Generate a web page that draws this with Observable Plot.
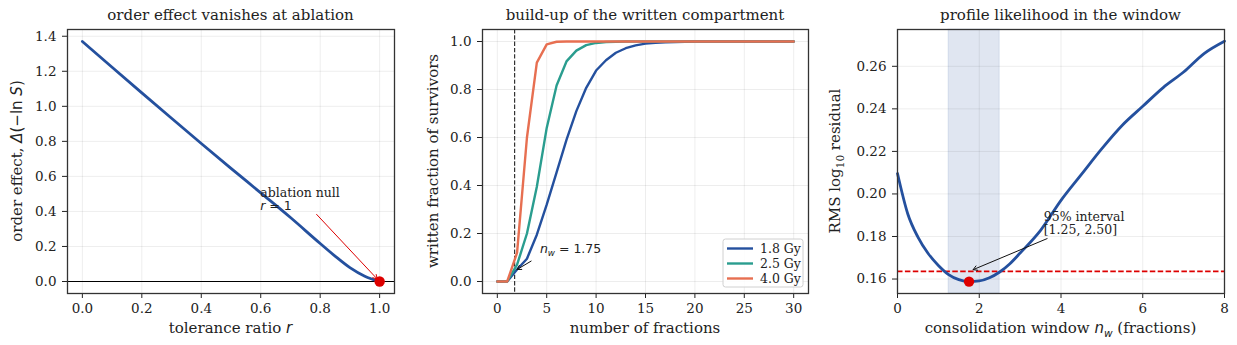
<!DOCTYPE html>
<html>
<head>
<meta charset="utf-8">
<script src="https://cdn.jsdelivr.net/npm/d3@7"></script>
<script src="https://cdn.jsdelivr.net/npm/@observablehq/plot@0.6"></script>
<style>
  body { margin: 0; background: #fff; }
  #row { display: flex; width: 1237px; height: 345px; }
  #row svg { display: block; overflow: visible; }
</style>
</head>
<body>
<div id="row"></div>
<script>
// ---- panel 1: order effect vs tolerance ratio ----
const toleranceRatio = [0, 0.1, 0.2, 0.3, 0.4, 0.5, 0.6, 0.7, 0.8, 0.85, 0.9, 0.95, 1.0];
const orderEffect    = [1.37, 1.223, 1.077, 0.932, 0.788, 0.646, 0.506, 0.365, 0.217, 0.145, 0.079, 0.03, 0];
const ablationNull   = {r: 1.0, value: 0};

// ---- panel 2: written fraction of survivors per dose ----
const fractions = [0,1,2,3,4,5,6,7,8,9,10,11,12,13,14,15,16,17,18,19,20,21,22,23,24,25,26,27,28,29,30];
const written18 = [0,0,0.05,0.095,0.195,0.32,0.455,0.59,0.71,0.807,0.879,0.922,0.953,0.972,0.984,0.991,0.995,0.997,0.998,0.999,1,1,1,1,1,1,1,1,1,1,1];
const written25 = [0,0,0.07,0.2,0.395,0.64,0.817,0.917,0.962,0.985,0.994,0.998,0.999,1,1,1,1,1,1,1,1,1,1,1,1,1,1,1,1,1,1];
const written40 = [0,0,0.12,0.6,0.912,0.988,0.999,1,1,1,1,1,1,1,1,1,1,1,1,1,1,1,1,1,1,1,1,1,1,1,1];
const doseLabels = ["1.8 Gy", "2.5 Gy", "4.0 Gy"];
const windowEstimate = 1.75;

// ---- panel 3: profile likelihood over the consolidation window ----
const windowN  = [0, 0.25, 0.5, 0.75, 1, 1.25, 1.5, 1.75, 2, 2.25, 2.5, 2.75, 3, 3.5, 4, 4.5, 5, 5.5, 6, 6.5, 7, 7.5, 8];
const rmsResid = [0.2096, 0.1907, 0.1797, 0.172, 0.1664, 0.1621, 0.1597, 0.1588, 0.1591, 0.1606, 0.1633, 0.1672, 0.1722, 0.1829, 0.197, 0.2092, 0.2213, 0.2323, 0.2412, 0.25, 0.2573, 0.266, 0.2718];
const interval95 = [1.25, 2.5];
const bestWindow = {n: 1.75, rms: 0.1588};
const threshold = 0.1636;

const SERIF = "'DejaVu Serif', serif";
const SANS = "'DejaVu Sans', sans-serif";
const BLUE = "#24509e", GREEN = "#2a9d8f", ORANGE = "#e76f51", RED = "#dd0000";
const doseColors = [BLUE, GREEN, ORANGE];

const H = 345, TOP = 29, BOTTOM = 52;
const TICK_FONT = 13.5, LABEL_FONT = 15, NOTE_FONT = 12.5;
const row = document.getElementById("row");

const baseStyle = {fontFamily: SERIF, fontSize: TICK_FONT + "px", color: "#222", background: "transparent"};

function axes(xTicks, xFmt, yTicks, yFmt) {
  return [
    Plot.gridX(xTicks, {stroke: "#000", strokeOpacity: 0.07}),
    Plot.gridY(yTicks, {stroke: "#000", strokeOpacity: 0.07}),
    Plot.axisX(xTicks, {tickFormat: xFmt, tickSize: 5, tickPadding: 5, label: null, fontSize: TICK_FONT}),
    Plot.axisY(yTicks, {tickFormat: yFmt, tickSize: 5, tickPadding: 6, label: null, fontSize: TICK_FONT})
  ];
}

// text made of runs in different fonts / styles, with optional subscripts
function rich(g, x, y, parts, {size = 12, anchor = "middle", rotate = 0} = {}) {
  const t = g.append("text")
    .attr("text-anchor", anchor)
    .attr("font-size", size)
    .attr("fill", "#222")
    .attr("transform", `translate(${x},${y}) rotate(${rotate})`);
  for (const p of parts) {
    const s = t.append("tspan")
      .attr("font-family", p.font || SERIF)
      .attr("font-style", p.italic ? "italic" : "normal")
      .text(p.t);
    if (p.sub) s.attr("font-size", size * 0.7).attr("dy", size * 0.25);
    if (p.unsub) s.attr("dy", -size * 0.25);
  }
  return t;
}

function title(svg, plot, text) {
  const g = d3.select(svg);
  const [x0, x1] = plot.scale("x").range;
  g.append("text").attr("x", (x0 + x1) / 2).attr("y", 20)
    .attr("text-anchor", "middle").attr("font-family", SERIF).attr("font-size", LABEL_FONT)
    .attr("fill", "#222").text(text);
}

// ---------- panel 1 ----------
{
  const data = toleranceRatio.map((r, i) => ({r, v: orderEffect[i]}));
  const p = Plot.plot({
    width: 410, height: H,
    marginLeft: 67, marginRight: 16, marginTop: TOP, marginBottom: BOTTOM,
    style: baseStyle,
    x: {domain: [-0.05, 1.05]},
    y: {domain: [-0.0685, 1.4385]},
    marks: [
      ...axes([0, 0.2, 0.4, 0.6, 0.8, 1.0], d3.format(".1f"), [0, 0.2, 0.4, 0.6, 0.8, 1.0, 1.2, 1.4], d3.format(".1f")),
      Plot.ruleY([0], {stroke: "#000", strokeWidth: 1}),
      Plot.line(data, {x: "r", y: "v", stroke: BLUE, strokeWidth: 2.8, curve: "monotone-x"}),
      Plot.arrow([{x1: 0.788, y1: 0.383, x2: ablationNull.r - 0.008, y2: ablationNull.value + 0.014}],
        {x1: "x1", y1: "y1", x2: "x2", y2: "y2", stroke: RED, strokeWidth: 1, headLength: 7, bend: 0}),
      Plot.dot([ablationNull], {x: "r", y: "value", r: 5.2, fill: RED}),
      Plot.frame({stroke: "#333", strokeWidth: 1.3})
    ]
  });
  row.appendChild(p);
  title(p, p, "order effect vanishes at ablation");
  const g = d3.select(p), sx = p.scale("x"), sy = p.scale("y");
  rich(g, (sx.range[0] + sx.range[1]) / 2, 333, [{t: "tolerance ratio "}, {t: "r", font: SANS, italic: true}], {size: LABEL_FONT});
  rich(g, 22, (TOP + H - BOTTOM) / 2, [{t: "order effect, "}, {t: "Δ", font: SANS, italic: true}, {t: "(−ln ", font: SANS}, {t: "S", font: SANS, italic: true}, {t: ")", font: SANS}], {size: LABEL_FONT, rotate: -90});
  rich(g, sx.apply(0.6), sy.apply(0.505) + 4.5, [{t: "ablation null"}], {size: NOTE_FONT, anchor: "start"});
  rich(g, sx.apply(0.6), sy.apply(0.43) + 4.5, [{t: "r", font: SANS, italic: true}, {t: " = 1", font: SANS}], {size: NOTE_FONT, anchor: "start"});
}

// ---------- panel 2 ----------
{
  const series = [written18, written25, written40];
  const data = series.flatMap((vals, k) => fractions.map((n, i) => ({n, v: vals[i], dose: doseLabels[k]})));
  const p = Plot.plot({
    width: 410, height: H,
    marginLeft: 72, marginRight: 12, marginTop: TOP, marginBottom: BOTTOM,
    style: baseStyle,
    x: {domain: [-1.5, 31.5]},
    y: {domain: [-0.05, 1.05]},
    color: {domain: doseLabels, range: doseColors},
    marks: [
      ...axes([0, 5, 10, 15, 20, 25, 30], d3.format("d"), [0, 0.2, 0.4, 0.6, 0.8, 1.0], d3.format(".1f")),
      Plot.ruleX([windowEstimate], {stroke: "#333", strokeWidth: 1.2, strokeDasharray: "4.4,1.9"}),
      Plot.line(data, {x: "n", y: "v", z: "dose", stroke: "dose", strokeWidth: 2.4}),
      Plot.arrow([{x1: 3.42, y1: 0.085, x2: 2.0, y2: 0.05}],
        {x1: "x1", y1: "y1", x2: "x2", y2: "y2", stroke: "#111", strokeWidth: 1, headLength: 7, bend: 0}),
      Plot.frame({stroke: "#333", strokeWidth: 1.3})
    ]
  });
  row.appendChild(p);
  title(p, p, "build-up of the written compartment");
  const g = d3.select(p), sx = p.scale("x"), sy = p.scale("y");
  rich(g, (sx.range[0] + sx.range[1]) / 2, 333, [{t: "number of fractions"}], {size: LABEL_FONT});
  rich(g, 28, (TOP + H - BOTTOM) / 2, [{t: "written fraction of survivors"}], {size: LABEL_FONT, rotate: -90});
  rich(g, sx.apply(4.36), sy.apply(0.1375) + 4.5, [
    {t: "n", font: SANS, italic: true}, {t: "w", font: SANS, italic: true, sub: true},
    {t: " = 1.75", font: SANS, unsub: true}], {size: NOTE_FONT, anchor: "start"});
  // legend
  const lx = sx.range[1] - 85, ly = sy.range[0] - 54;
  const lg = g.append("g").attr("transform", `translate(${lx},${ly})`);
  lg.append("rect").attr("width", 80).attr("height", 48).attr("rx", 2.5)
    .attr("fill", "#fff").attr("fill-opacity", 0.85).attr("stroke", "#d0d0d0");
  doseLabels.forEach((d, i) => {
    const yy = 9.5 + i * 15;
    lg.append("line").attr("x1", 4).attr("x2", 30).attr("y1", yy).attr("y2", yy)
      .attr("stroke", doseColors[i]).attr("stroke-width", 2.4);
    lg.append("text").attr("x", 37).attr("y", yy + 4.5).attr("text-anchor", "start")
      .attr("font-family", SERIF).attr("font-size", NOTE_FONT).attr("fill", "#222").text(d);
  });
}

// ---------- panel 3 ----------
{
  const data = windowN.map((n, i) => ({n, v: rmsResid[i]}));
  const p = Plot.plot({
    width: 417, height: H,
    marginLeft: 77, marginRight: 13, marginTop: TOP, marginBottom: BOTTOM,
    style: baseStyle,
    x: {domain: [0, 8]},
    y: {domain: [0.1532, 0.2773]},
    marks: [
      Plot.rect([{a: interval95[0], b: interval95[1]}], {x1: "a", x2: "b", fill: BLUE, fillOpacity: 0.14, stroke: BLUE, strokeOpacity: 0.12}),
      ...axes([0, 2, 4, 6, 8], d3.format("d"), [0.16, 0.18, 0.20, 0.22, 0.24, 0.26], d3.format(".2f")),
      Plot.ruleY([threshold], {stroke: RED, strokeWidth: 1.6, strokeDasharray: "5.5,2.4"}),
      Plot.line(data, {x: "n", y: "v", stroke: BLUE, strokeWidth: 2.8, curve: "monotone-x"}),
      Plot.arrow([{x1: 3.66, y1: 0.179, x2: 1.85, y2: 0.1644}],
        {x1: "x1", y1: "y1", x2: "x2", y2: "y2", stroke: "#111", strokeWidth: 1, headLength: 7, bend: 0}),
      Plot.dot([bestWindow], {x: "n", y: "rms", r: 5.2, fill: RED}),
      Plot.frame({stroke: "#333", strokeWidth: 1.3})
    ]
  });
  row.appendChild(p);
  title(p, p, "profile likelihood in the window");
  const g = d3.select(p), sx = p.scale("x"), sy = p.scale("y");
  rich(g, (sx.range[0] + sx.range[1]) / 2, 333, [
    {t: "consolidation window "}, {t: "n", font: SANS, italic: true},
    {t: "w", font: SANS, italic: true, sub: true}, {t: " (fractions)", unsub: true}], {size: LABEL_FONT});
  rich(g, 20, (TOP + H - BOTTOM) / 2, [
    {t: "RMS log"}, {t: "10", sub: true}, {t: " residual", unsub: true}], {size: LABEL_FONT, rotate: -90});
  rich(g, sx.apply(3.59), sy.apply(0.1893) + 4.5, [{t: "95% interval"}], {size: NOTE_FONT, anchor: "start"});
  rich(g, sx.apply(3.59), sy.apply(0.1832) + 4.5, [{t: "[1.25, 2.50]"}], {size: NOTE_FONT, anchor: "start"});
}
</script>
</body>
</html>
